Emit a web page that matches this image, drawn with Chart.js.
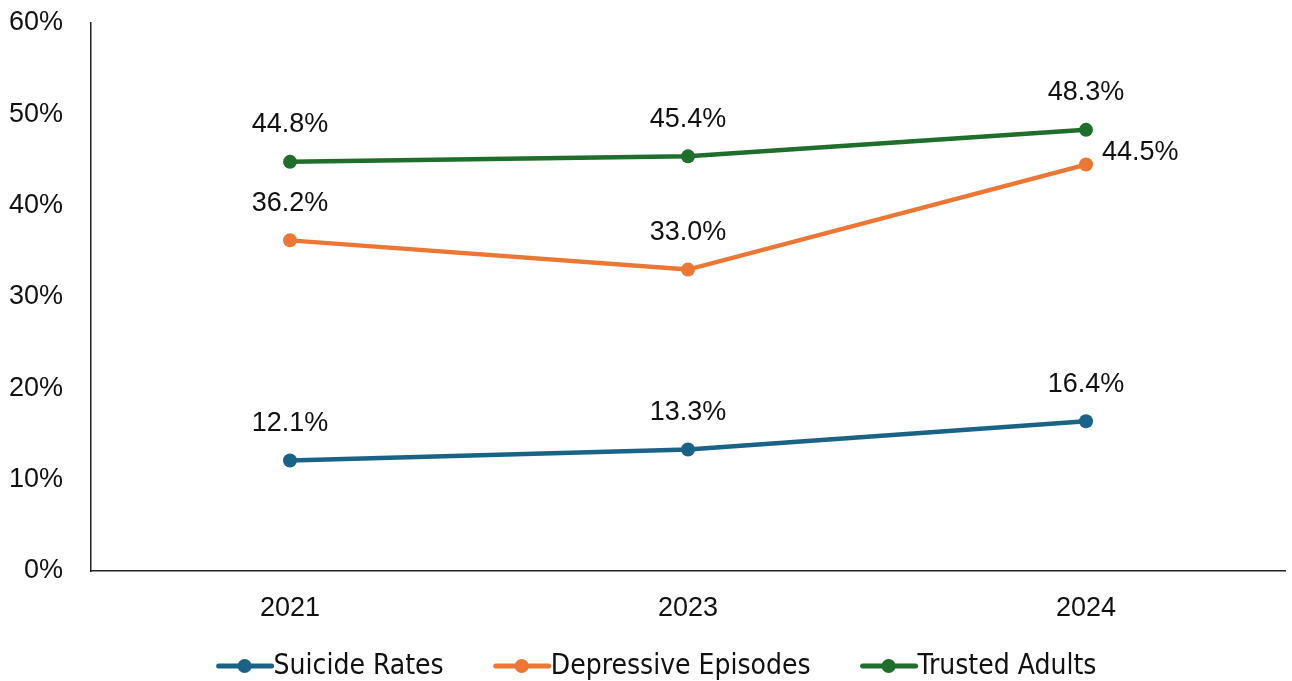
<!DOCTYPE html>
<html>
<head>
<meta charset="utf-8">
<script src="https://cdn.jsdelivr.net/npm/chart.js@4"></script>
<style>
  html, body { margin: 0; padding: 0; background: #fff; }
  #wrap { width: 1292px; height: 681px; }
</style>
</head>
<body>
<div id="wrap"><canvas id="chart"></canvas></div>
<script>
// Dữ liệu
const years = ['2021', '2023', '2024'];
const suicideRates = [12.1, 13.3, 16.4];
const depressiveEpisodes = [36.2, 33.0, 44.5];
const trustedAdults = [44.8, 45.4, 48.3];
const yTicks = [0, 10, 20, 30, 40, 50, 60];

const BLUE = '#1a6387';
const ORANGE = '#ec7634';
const GREEN = '#1f6e2b';
const FONT = '"Liberation Sans", Arial, sans-serif';
const LEGEND_FONT = '28px "Liberation Sans Narrow", "DejaVu Sans Condensed", sans-serif';

// Plugin vẽ nhãn giá trị trên từng điểm
const valueLabels = {
    id: 'valueLabels',
    afterDatasetsDraw(chart) {
        const ctx = chart.ctx;
        ctx.save();
        ctx.font = '27px ' + FONT;
        ctx.fillStyle = '#111';
        ctx.textBaseline = 'middle';
        chart.data.datasets.forEach((ds, i) => {
            const meta = chart.getDatasetMeta(i);
            meta.data.forEach((pt, j) => {
                const text = ds.data[j].toFixed(1) + '%';
                const pos = (ds.labelPos && ds.labelPos[j]) || 'top';
                if (pos === 'right') {
                    ctx.textAlign = 'left';
                    ctx.fillText(text, pt.x + 16, pt.y - 12);
                } else {
                    ctx.textAlign = 'center';
                    ctx.fillText(text, pt.x, pt.y - 37);
                }
            });
        });
        ctx.restore();
    }
};

// Legend tự vẽ: đoạn thẳng + chấm tròn + chữ, căn giữa phía dưới
const lineLegend = {
    id: 'lineLegend',
    afterDraw(chart) {
        const ctx = chart.ctx;
        const sw = 58, gap = 49, y = 666;
        ctx.save();
        ctx.font = LEGEND_FONT;
        const items = chart.data.datasets.map(ds => ({
            ds: ds,
            w: ctx.measureText(ds.label).width
        }));
        let total = items.reduce((s, it) => s + sw + it.w, 0) + gap * (items.length - 1);
        let x = 656 - total / 2;
        items.forEach(it => {
            const c = it.ds.borderColor;
            ctx.strokeStyle = c;
            ctx.lineWidth = 5;
            ctx.lineCap = 'round';
            ctx.beginPath();
            ctx.moveTo(x + 3, y);
            ctx.lineTo(x + sw - 2, y);
            ctx.stroke();
            ctx.fillStyle = c;
            ctx.beginPath();
            ctx.arc(x + sw / 2, y, 7, 0, Math.PI * 2);
            ctx.fill();
            ctx.fillStyle = '#111';
            ctx.textAlign = 'left';
            ctx.textBaseline = 'middle';
            ctx.fillText(it.ds.label, x + sw, y + 1);
            x += sw + it.w + gap;
        });
        ctx.restore();
    }
};

const ctx = document.getElementById('chart').getContext('2d');
const chart = new Chart(ctx, {
    type: 'line',
    data: {
        labels: years,
        datasets: [
            {
                label: 'Suicide Rates',
                data: suicideRates,
                borderColor: BLUE,
                backgroundColor: BLUE
            },
            {
                label: 'Depressive Episodes',
                data: depressiveEpisodes,
                borderColor: ORANGE,
                backgroundColor: ORANGE,
                labelPos: ['top', 'top', 'right']
            },
            {
                label: 'Trusted Adults',
                data: trustedAdults,
                borderColor: GREEN,
                backgroundColor: GREEN
            }
        ]
    },
    options: {
        responsive: true,
        maintainAspectRatio: false,
        animation: false,
        layout: {
            padding: { left: 8, right: 6, top: 23, bottom: 60 }
        },
        elements: {
            line: { borderWidth: 4.5, tension: 0 },
            point: { radius: 7, hoverRadius: 7, borderWidth: 0 }
        },
        plugins: {
            tooltip: { enabled: false },
            legend: { display: false }
        },
        scales: {
            x: {
                offset: true,
                grid: { display: false },
                border: { display: true, color: '#222', width: 1.5 },
                afterFit(scale) {
                    scale.height = 50;
                    scale.paddingLeft = 0;
                    scale.paddingRight = 0;
                },
                ticks: {
                    color: '#111',
                    padding: 13,
                    font: { family: FONT, size: 27 }
                }
            },
            y: {
                min: 0,
                max: 60,
                grid: { display: false },
                border: { display: true, color: '#222', width: 1.5 },
                afterBuildTicks(scale) {
                    scale.ticks = yTicks.map(v => ({ value: v }));
                },
                afterFit(scale) {
                    scale.width = 83;
                    scale.paddingTop = 0;
                    scale.paddingBottom = 0;
                },
                ticks: {
                    color: '#111',
                    padding: 20,
                    font: { family: FONT, size: 27 },
                    callback: v => v + '%'
                }
            }
        }
    },
    plugins: [valueLabels, lineLegend]
});
</script>
</body>
</html>
